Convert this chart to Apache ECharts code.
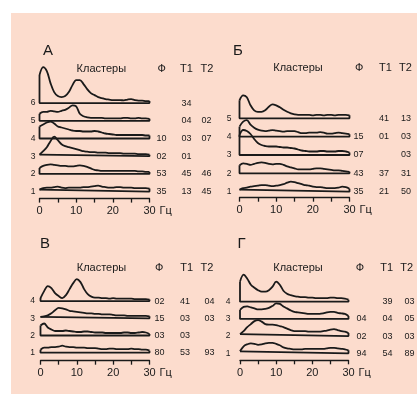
<!DOCTYPE html>
<html><head><meta charset="utf-8">
<script src="https://cdn.jsdelivr.net/npm/echarts@6/dist/echarts.min.js"></script>
<style>html,body{margin:0;padding:0;background:#fff;}#c{width:417px;height:394px;}</style>
</head><body><div id="c"></div>
<script>
// frequency samples (Hz)
const freqHz = [0,1,2,3,4,5,6,7,8,9,10,11,12,13,14,15,16,17,18,19,20,21,22,23,24,25,26,27,28,29,30];
const xTickLabels = [0,10,20,30];
const headerTexts = ['Кластеры','Ф','Т1','Т2'];

// Panel А spectra (clusters 1..6)
const A1 = [2,3.5,4,4,4.5,5,4,3.5,4,4,4,4,4.5,4.5,5,5.5,6,5,4.5,4,4,4.5,4.5,4,4,4,3.5,3.5,3.5,3.5,3];
const A2 = [6,8,9,9.5,9,8.5,8,8,7.5,7.5,8,8.5,8,7,5.5,4,3.5,3,3,3,3,3,3,3,3,3,3,2.5,2.5,2,2];
const A3 = [1.5,5,9,15,19.5,16,12,10,9,8,7,6,5,4.5,4,4,3.5,3.5,3.5,3,3,3,3,2.5,2.5,2.5,2.5,2,2,2,1.5];
const A4 = [12,14,16,17,15,12,11,10,9,8,7.5,7.5,7,7,7,7.5,7,6,5,4.5,4,3.5,3.5,3.5,3.5,3.5,3.5,3.5,3.5,3,3];
const A5 = [7,9,9,10,9.5,9,10,11,13,15.5,14.5,7,4.5,3.5,3,3,3,3,2.5,2.5,2.5,2.5,2.5,3,3,2.5,2.5,3,2.5,2.5,2];
const A6 = [28,36,32,20,11,7,6,7,11,18,23,23,19,14,10,8,6,5,4,3.5,3,3,3,2.7,3.5,4,3,2.5,2.5,2,2];
const A_phi = ['35','53','02','10','',''];
const A_t1  = ['13','45','01','03','04','34'];
const A_t2  = ['45','46','','07','02',''];

// Panel Б spectra (clusters 1..5)
const B1 = [2,3.5,4,5,5.5,6,6.5,6.5,6,5.5,6,6.5,7.5,9,10,9.5,8.5,7.5,6.5,6,5,4.5,4.5,4,3.5,3.5,3.5,4,5,4.5,3];
const B2 = [8,10,9.5,8.5,9.5,10.5,11,10.5,9.5,9,9.5,9.5,8.5,7,6,5,4,4,4,4,4.5,5,5,4.5,4,3.5,3,3,2.5,2,1.5];
const B3 = [20,25,24,21,16,12,10,9,8.5,8.5,8.5,8,7.5,7.5,7,6.5,5.5,4.5,4,3.5,3.5,3.5,4,4,3.5,3.5,3.5,4,4,3.5,2.5];
const B4 = [10,15,16.5,12,9,7,6,5.5,6,6.5,6,5.5,5,5.5,5.5,5.5,4.5,3.5,3.5,4,4,4,4.5,4,3,3,3.5,4,3.5,3,2.5];
const B5 = [18,23,21,13,8,6.5,6.5,8,11.5,14,13,11,8.5,6.5,5,4,3.5,3.5,3.5,3.5,3,3.5,3.5,3,3.5,3.5,3,3.5,3.5,3.5,3];
const B_phi = ['35','43','07','15',''];
const B_t1  = ['21','37','','01','41'];
const B_t2  = ['50','31','03','03','13'];

// Panel В spectra (clusters 1..4)
const V1 = [3,5,5,5.5,5.5,6,7,6,5.5,5.5,5,5,5,4.5,4.5,4.5,4,3.5,3.5,4,4,3.5,3.5,3.5,3.5,4,3.5,3.5,3,3,2];
const V2 = [10,12,8,6,4.5,4.5,4.5,5,4.5,4,3.5,3.5,4,4,3.5,3,3,3,2.5,2.5,2.5,2.5,2.5,3,3,2.5,2.5,3,3.5,3,1.5];
const V3 = [1.5,2,3,5,8,10.5,10,9,7.5,7,6.5,6,5.5,5,5,4.5,4.5,4,4,4,3.5,3,3,3,2.5,2.5,2.5,2.5,2.5,2.5,2];
const V4 = [3,10,15,13,8,5,3,6,12,18,22,19,12,7,4.5,3.5,3.5,3,3,2.5,3,2.5,2.5,2.5,2.5,2.5,2,2,2,2,1.5];
const V_phi = ['80','03','15','02'];
const V_t1  = ['53','03','03','41'];
const V_t2  = ['93','','03','04'];

// Panel Г spectra (clusters 1..4)
const G1 = [2,7,9,10,9.5,8.5,9,10,10.5,10.5,9.5,8,6,5,4.5,4,4,4,4.5,4.5,4.5,4.5,4.5,4.5,5,5.5,5.5,5,4.5,4,3];
const G2 = [2,5,9,12,15,16,14.5,12,11.5,11.5,11,10,9,7.5,6,5,5,5,5,4.5,4.5,4.5,4.5,5,5.5,6.5,7,6,5,4.5,3];
const G3 = [9,12,12.5,11.5,10.5,9.5,9.5,10,11,13,15.5,15,12.5,10.5,8.5,7,6.5,6,5.5,5,5,5,5,5.5,6.5,7,7,6,5.5,5,3];
const G4 = [20,27,23,17,14,11.5,10,10,11.5,15,20,17,11,8,6.5,5.5,5,4.5,4.5,4,4,3.5,3.5,3.5,3.5,4,4,3.5,3.5,3,2];
const G_phi = ['94','02','04',''];
const G_t1  = ['54','03','04','39'];
const G_t2  = ['89','03','05','03'];

// layout (pixels)
const panels = [
  {letter:'А', spectra:[A1,A2,A3,A4,A5,A6], cols:[A_phi,A_t1,A_t2], left:39.5, width:110, S:17.7, gap:7, axisY:198.6, topUnits:8,
   letterPos:[48,51], hdrY:69.3, hdrX:[101.3,161.7,186.5,207], lblMargin:4, colMargin:[12,37,57]},
  {letter:'Б', spectra:[B1,B2,B3,B4,B5], cols:[B_phi,B_t1,B_t2], left:239.5, width:110, S:18.35, gap:6, axisY:197.7, topUnits:8,
   letterPos:[238,51], hdrY:68.3, hdrX:[298,359.3,385.5,405.5], lblMargin:8, colMargin:[9,34.5,56.5]},
  {letter:'В', spectra:[V1,V2,V3,V4], cols:[V_phi,V_t1,V_t2], left:40.5, width:109, S:17.2, gap:8, axisY:360.7, topUnits:6,
   letterPos:[45,244], hdrY:268.3, hdrX:[101.5,159.3,186.7,207], lblMargin:5.5, colMargin:[10,35.5,60]},
  {letter:'Г', spectra:[G1,G2,G3,G4], cols:[G_phi,G_t1,G_t2], left:240, width:108.5, S:17.2, gap:7, axisY:360.3, topUnits:6,
   letterPos:[241.5,244], hdrY:268.3, hdrX:[298,360,386.7,406.7], lblMargin:9.5, colMargin:[13,39,61]}
];

const INK = '#1a1a1a';
const FONT = '"Liberation Sans", Arial, sans-serif';
const grid = [], xAxis = [], yAxis = [], series = [], graphic = [];

graphic.push({type:'rect', shape:{x:11, y:13, width:406, height:381}, style:{fill:'#fcdccd'}, z:-10, silent:true});

panels.forEach((p, pi) => {
  const ymin = p.S - p.gap;
  const ymax = p.topUnits * p.S;
  const h = ymax - ymin;
  grid.push({left:p.left, width:p.width, top:p.axisY - h, height:h, containLabel:false, outerBoundsMode:'none'});
  const baseVals = p.spectra.map((_, k) => (k + 1) * p.S);
  xAxis.push({
    type:'value', gridIndex:pi, min:0, max:30, interval:5,
    axisLine:{show:true, lineStyle:{color:INK, width:1.3}},
    axisTick:{show:true, length:4, lineStyle:{color:INK, width:1.3}},
    splitLine:{show:false},
    axisLabel:{color:INK, fontSize:11, fontFamily:FONT, margin:7,
      formatter: v => xTickLabels.indexOf(v) >= 0 ? String(v) : ''},
    name:'Гц', nameLocation:'end', nameGap:10,
    nameTextStyle:{color:INK, fontSize:11, fontFamily:FONT, align:'left', verticalAlign:'top', padding:[7,0,0,0]}
  });
  const yi = yAxis.length;
  yAxis.push({
    type:'value', gridIndex:pi, min:ymin, max:ymax, position:'left',
    axisLine:{show:false}, axisTick:{show:false}, splitLine:{show:false},
    axisLabel:{show:true, customValues:baseVals, color:INK, fontSize:8.5, fontFamily:FONT, margin:p.lblMargin,
      formatter: v => String(Math.round(v / p.S))}
  });
  p.cols.forEach((col, ci) => {
    yAxis.push({
      type:'value', gridIndex:pi, min:ymin, max:ymax, position:'right',
      axisLine:{show:false}, axisTick:{show:false}, splitLine:{show:false},
      axisLabel:{show:true, customValues:baseVals, color:INK, fontSize:9, fontFamily:FONT,
        margin:p.colMargin[ci], align:'center',
        formatter: v => col[Math.round(v / p.S) - 1] || ''}
    });
  });
  p.spectra.forEach((spec, k) => {
    const base = (k + 1) * p.S;
    series.push({
      type:'line', xAxisIndex:pi, yAxisIndex:yi, smooth:0.35, symbol:'none', clip:false, silent:true,
      lineStyle:{color:INK, width:1.8},
      data: freqHz.map((f, i) => [f, base + spec[i]])
    });
    series.push({
      type:'line', xAxisIndex:pi, yAxisIndex:yi, smooth:false, symbol:'none', clip:false, silent:true,
      lineStyle:{color:INK, width:1.8},
      data: [[freqHz[0], base + spec[0]], [freqHz[0], base], [freqHz[freqHz.length-1], base], [freqHz[freqHz.length-1], base + spec[spec.length-1]]]
    });
  });
  graphic.push({type:'text', x:p.letterPos[0], y:p.letterPos[1],
    style:{text:p.letter, fill:INK, font:'15px ' + FONT, textAlign:'center', textVerticalAlign:'middle'}});
  headerTexts.forEach((t, hi) => {
    graphic.push({type:'text', x:p.hdrX[hi], y:p.hdrY,
      style:{text:t, fill:INK, font:'11px ' + FONT, textAlign:'center', textVerticalAlign:'middle'}});
  });
});

const chart = echarts.init(document.getElementById('c'), null, {renderer:'canvas'});
chart.setOption({animation:false, backgroundColor:'#ffffff', grid, xAxis, yAxis, series, graphic});
</script>
</body></html>
